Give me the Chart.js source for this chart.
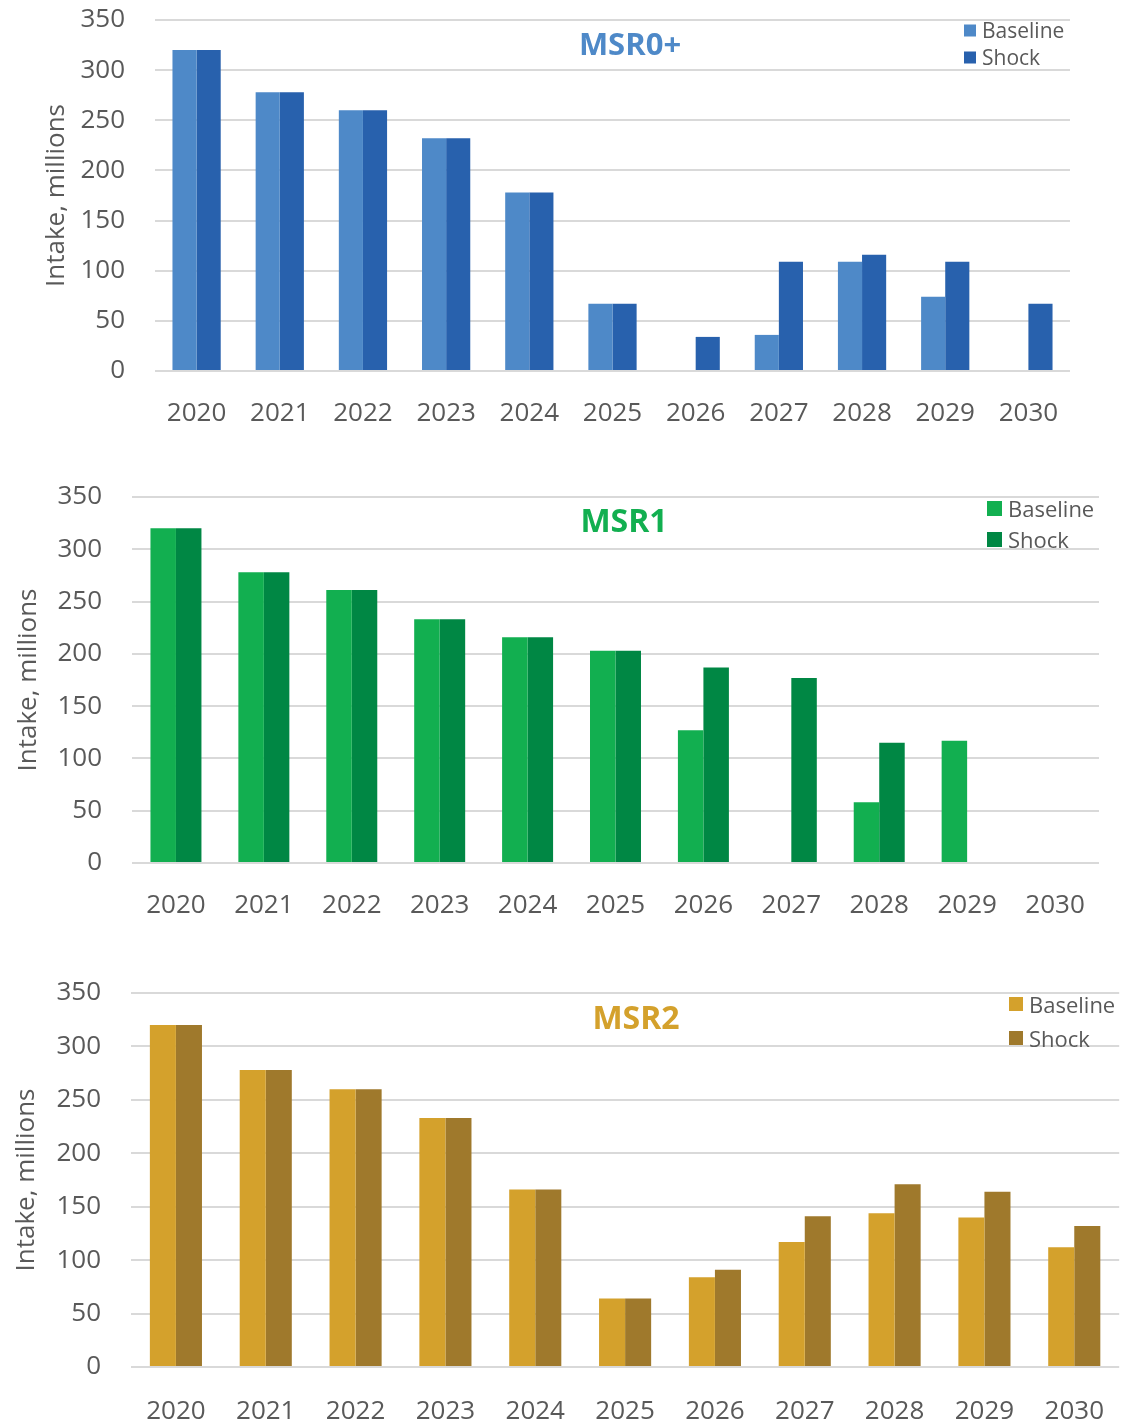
<!DOCTYPE html>
<html>
<head>
<meta charset="utf-8">
<script src="https://cdn.jsdelivr.net/npm/chart.js@4"></script>
<style>
  body { margin: 0; background: #ffffff; width: 1125px; height: 1425px; position: relative; overflow: hidden; font-family: 'Open Sans', sans-serif; }
  .panel { position: absolute; left: 0; width: 1125px; }
  .title { position: absolute; transform: translate(-50%, -50%); font-weight: bold; line-height: 1; white-space: nowrap; }
  .legend-row { position: absolute; display: flex; align-items: center; transform: translateY(-50%); color: #595959; line-height: 1; white-space: nowrap; }
  .legend-row span.box { display: inline-block; margin-right: 6px; }
</style>
</head>
<body>
<div class="panel" id="p1" style="top:0px;height:440px"><canvas id="c1"></canvas></div>
<div class="panel" id="p2" style="top:470px;height:470px"><canvas id="c2"></canvas></div>
<div class="panel" id="p3" style="top:960px;height:465px"><canvas id="c3"></canvas></div>
<script>
// Data (Intake, millions)
const years = ['2020', '2021', '2022', '2023', '2024', '2025', '2026', '2027', '2028', '2029', '2030'];
const seriesNames = ['Baseline', 'Shock'];

const msr0Baseline = [320, 278, 260, 232, 178, 67, null, 36, 109, 74, null];
const msr0Shock    = [320, 278, 260, 232, 178, 67, 34, 109, 116, 109, 67];

const msr1Baseline = [320, 278, 261, 233, 216, 203, 127, null, 58, 117, null];
const msr1Shock    = [320, 278, 261, 233, 216, 203, 187, 177, 115, null, null];

const msr2Baseline = [320, 278, 260, 233, 166, 64, 84, 117, 144, 140, 112];
const msr2Shock    = [320, 278, 260, 233, 166, 64, 91, 141, 171, 164, 132];

const yTicksMax = 350;
const yStep = 50;
const axisTitle = 'Intake, millions';

// Panel setup (page offsets, colours)
const panels = [
    {
        canvas: 'c1', name: 'MSR0+',
        colors: ['#4E89C8', '#2861AD'],
        data: [msr0Baseline, msr0Shock],
        padTop: 20, padLeft: 41, padRight: 55, yWidth: 114, xHeight: 69, xPad: 19,
        titleX: 630, titleY: 43, titleSize: 31,
        legendX: 964, legendY: [30, 57], boxSize: 12, legendSize: 21
    },
    {
        canvas: 'c2', name: 'MSR1',
        colors: ['#12AF50', '#008744'],
        data: [msr1Baseline, msr1Shock],
        padTop: 27, padLeft: 13, padRight: 26, yWidth: 119, xHeight: 77, xPad: 19,
        titleX: 624, titleY: 520, titleSize: 32,
        legendX: 987, legendY: [508, 539], boxSize: 15, legendSize: 22
    },
    {
        canvas: 'c3', name: 'MSR2',
        colors: ['#D4A12C', '#9F792C'],
        data: [msr2Baseline, msr2Shock],
        padTop: 33, padLeft: 11, padRight: -5, yWidth: 120, xHeight: 58, xPad: 21,
        titleX: 636, titleY: 1017, titleSize: 32,
        legendX: 1009, legendY: [1004, 1038], boxSize: 14, legendSize: 22
    }
];

const textColor = '#595959';
const gridColor = '#D9D9D9';

function buildChart(p) {
    const ctx = document.getElementById(p.canvas).getContext('2d');
    return new Chart(ctx, {
        type: 'bar',
        data: {
            labels: years,
            datasets: seriesNames.map((name, i) => ({
                label: name,
                data: p.data[i],
                backgroundColor: p.colors[i],
                borderWidth: 0,
                barPercentage: 1,
                categoryPercentage: 0.58
            }))
        },
        options: {
            responsive: true,
            maintainAspectRatio: false,
            animation: false,
            layout: {
                padding: { top: p.padTop, left: p.padLeft, right: p.padRight, bottom: 0 }
            },
            plugins: {
                legend: { display: false },
                tooltip: { enabled: false }
            },
            scales: {
                x: {
                    grid: { display: false },
                    border: { display: false },
                    ticks: {
                        color: textColor,
                        padding: p.xPad,
                        maxRotation: 0,
                        font: { family: 'Open Sans', size: 26 }
                    },
                    afterFit: (scale) => { scale.height = p.xHeight; }
                },
                y: {
                    min: 0,
                    max: yTicksMax,
                    border: { display: false },
                    // invisible tick marks give the gap between labels and plot
                    grid: { color: gridColor, lineWidth: 2, drawTicks: true, tickLength: 30, tickColor: 'rgba(0,0,0,0)' },
                    ticks: {
                        stepSize: yStep,
                        color: textColor,
                        padding: 0,
                        font: { family: 'Open Sans', size: 26 }
                    },
                    title: {
                        display: true,
                        text: axisTitle,
                        color: textColor,
                        padding: 0,
                        font: { family: 'Open Sans', size: 26 }
                    },
                    afterFit: (scale) => { scale.width = p.yWidth; }
                }
            }
        }
    });
}

// Titles and legends as page text
function addOverlay(p) {
    const title = document.createElement('div');
    title.className = 'title';
    title.textContent = p.name;
    title.style.left = p.titleX + 'px';
    title.style.top = p.titleY + 'px';
    title.style.fontSize = p.titleSize + 'px';
    title.style.color = p.colors[0];
    document.body.appendChild(title);

    seriesNames.forEach((name, i) => {
        const row = document.createElement('div');
        row.className = 'legend-row';
        row.style.left = p.legendX + 'px';
        row.style.top = p.legendY[i] + 'px';
        row.style.fontSize = p.legendSize + 'px';
        const box = document.createElement('span');
        box.className = 'box';
        box.style.width = p.boxSize + 'px';
        box.style.height = p.boxSize + 'px';
        box.style.background = p.colors[i];
        const label = document.createElement('span');
        label.textContent = name;
        row.appendChild(box);
        row.appendChild(label);
        document.body.appendChild(row);
    });
}

panels.forEach(p => {
    buildChart(p);
    addOverlay(p);
});
</script>
</body>
</html>
